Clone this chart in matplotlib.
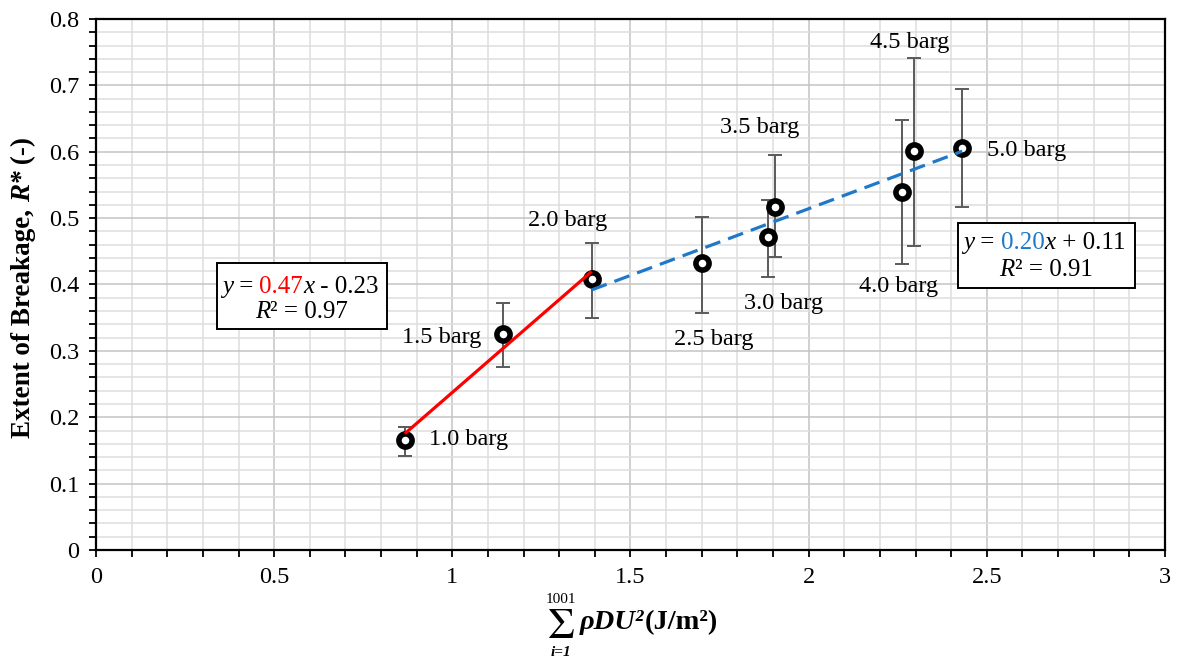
import matplotlib
matplotlib.use('Agg')
import matplotlib.pyplot as plt
import numpy as np
from matplotlib.patches import Rectangle
from matplotlib.ticker import MultipleLocator, FuncFormatter

plt.rcParams['font.family'] = ['Liberation Serif', 'DejaVu Serif']
plt.rcParams['mathtext.fontset'] = 'stix'

# ---------------- data ----------------
energy = [0.867, 1.143, 1.391, 1.702, 1.887, 1.906, 2.261, 2.297, 2.431]
breakage = [0.165, 0.326, 0.408, 0.432, 0.471, 0.517, 0.540, 0.601, 0.605]
err_top = [0.186, 0.372, 0.463, 0.502, 0.527, 0.595, 0.648, 0.741, 0.694]
err_bottom = [0.141, 0.276, 0.349, 0.357, 0.412, 0.441, 0.431, 0.458, 0.516]
pressure_labels = ['1.0 barg', '1.5 barg', '2.0 barg', '2.5 barg', '3.0 barg',
                   '3.5 barg', '4.0 barg', '4.5 barg', '5.0 barg']
eq_low = ['0.47', ' - 0.23', '0.97']
eq_high = ['0.20', ' + 0.11', '0.91']

# label offsets from point (pixels, y downwards)
label_offsets = [(64, -1), (-62, 4), (-24, -59), (11, 76), (15, 66),
                 (-15, -79), (-3, 95), (-5, -109), (64, 2)]

x = np.array(energy)
y = np.array(breakage)
yerr = [y - np.array(err_bottom), np.array(err_top) - y]

fig = plt.figure(figsize=(11.82, 6.61), dpi=100)
ax = fig.add_axes([0.0812, 0.1679, 0.9044, 0.8034])
ax.set_xlim(0, 3)
ax.set_ylim(0, 0.8)
ax.xaxis.set_major_locator(MultipleLocator(0.5))
ax.xaxis.set_minor_locator(MultipleLocator(0.1))
ax.yaxis.set_major_locator(MultipleLocator(0.1))
ax.yaxis.set_minor_locator(MultipleLocator(0.02))
ax.xaxis.set_major_formatter(FuncFormatter(lambda v, p: f'{v:g}'))
ax.yaxis.set_major_formatter(FuncFormatter(lambda v, p: f'{v:g}'))
ax.grid(which='major', color='#c4c4c4', lw=1.1)
ax.grid(which='minor', color='#dedede', lw=1.1)
ax.set_axisbelow(True)
ax.tick_params(which='both', direction='out', length=5, width=1.3, color='black',
               labelsize=17.5, pad=7, top=False, right=False)
for s in ax.spines.values():
    s.set_linewidth(1.6)
    s.set_color('black')

ax.errorbar(x, y, yerr=yerr, fmt='none', ecolor='#5a5a5a', elinewidth=1.4,
            capsize=5, capthick=1.4, zorder=3)
ax.plot(x, y, 'o', ms=9.5, mfc='white', mec='black', mew=4.0, zorder=4)

p1 = np.polyfit(x[:3], y[:3], 1)
xs1 = np.array([x[0], x[2]])
ax.plot(xs1, np.polyval(p1, xs1), color='#ff0000', lw=2.3, zorder=5,
        solid_capstyle='butt')
p2 = np.polyfit(x[2:], y[2:], 1)
xs2 = np.array([x[2], x[8]])
ax.plot(xs2, np.polyval(p2, xs2), color='#1f78c8', lw=2.3, zorder=5,
        dashes=(5, 2.6))

for xi, yi, lab, (dx, dy) in zip(x, y, pressure_labels, label_offsets):
    ax.annotate(lab, (xi, yi), xytext=(dx * 0.72, -dy * 0.72),
                textcoords='offset points', ha='center', va='center',
                fontsize=17.5, zorder=6)

# equation boxes
def rainbow(x0, y0, pieces, fs=18):
    t = ax.text(x0, y0, pieces[0][0], color=pieces[0][1], style=pieces[0][2],
                transform=ax.transAxes, ha='left', va='center', fontsize=fs, zorder=8)
    for s, c, st in pieces[1:]:
        t = ax.annotate(s, xycoords=t, xy=(1, 0), ha='left', va='bottom',
                        color=c, style=st, fontsize=fs, zorder=8)

for (bx0, by0, bx1, by1) in [(0.1129, 0.4162, 0.2719, 0.5399),
                             (0.8064, 0.4940, 0.9719, 0.6153)]:
    ax.add_patch(Rectangle((bx0, by0), bx1 - bx0, by1 - by0, transform=ax.transAxes,
                           facecolor='white', edgecolor='black', lw=1.4, zorder=7))

rainbow(0.1176, 0.4959, [('y', 'black', 'italic'), (' = ', 'black', 'normal'),
                         (eq_low[0], '#ff0000', 'normal'), ('x', 'black', 'italic'),
                         (eq_low[1], 'black', 'normal')])
rainbow(0.1487, 0.4476, [('R', 'black', 'italic'), ('² = ' + eq_low[2], 'black', 'normal')])
rainbow(0.8113, 0.5776, [('y', 'black', 'italic'), (' = ', 'black', 'normal'),
                         (eq_high[0], '#1f78c8', 'normal'), ('x', 'black', 'italic'),
                         (eq_high[1], 'black', 'normal')])
rainbow(0.8450, 0.5273, [('R', 'black', 'italic'), ('² = ' + eq_high[2], 'black', 'normal')])

# x label
fig.text(0.4747, 0.051, r'$\Sigma$', ha='center', va='center', fontsize=31,
         math_fontfamily='stix')
fig.text(0.4747, 0.0935, '1001', ha='center', va='center', fontsize=11)
fig.text(0.4747, 0.0125, 'i=1', ha='center', va='center', fontsize=11,
         style='italic', weight='bold')
t = fig.text(0.4907, 0.058, 'ρDU²', ha='left', va='center', fontsize=20.5,
             style='italic', weight='bold')
ax.annotate('(J/m²)', xycoords=t, xy=(1, 0), ha='left', va='bottom',
            fontsize=20.5, weight='bold', annotation_clip=False)

# y label
t = fig.text(0.0203, 0.337, 'Extent of Breakage, ', rotation=90, ha='center',
             va='bottom', fontsize=19.5, weight='bold')
t = ax.annotate('R*', xycoords=t, xy=(0.5, 1), ha='center', va='bottom', rotation=90,
                fontsize=19.5, weight='bold', style='italic', annotation_clip=False)
t = ax.annotate(' (-)', xycoords=t, xy=(0.5, 1), ha='center', va='bottom', rotation=90,
                fontsize=19.5, weight='bold', annotation_clip=False)

fig.savefig('out.png', dpi=100)
